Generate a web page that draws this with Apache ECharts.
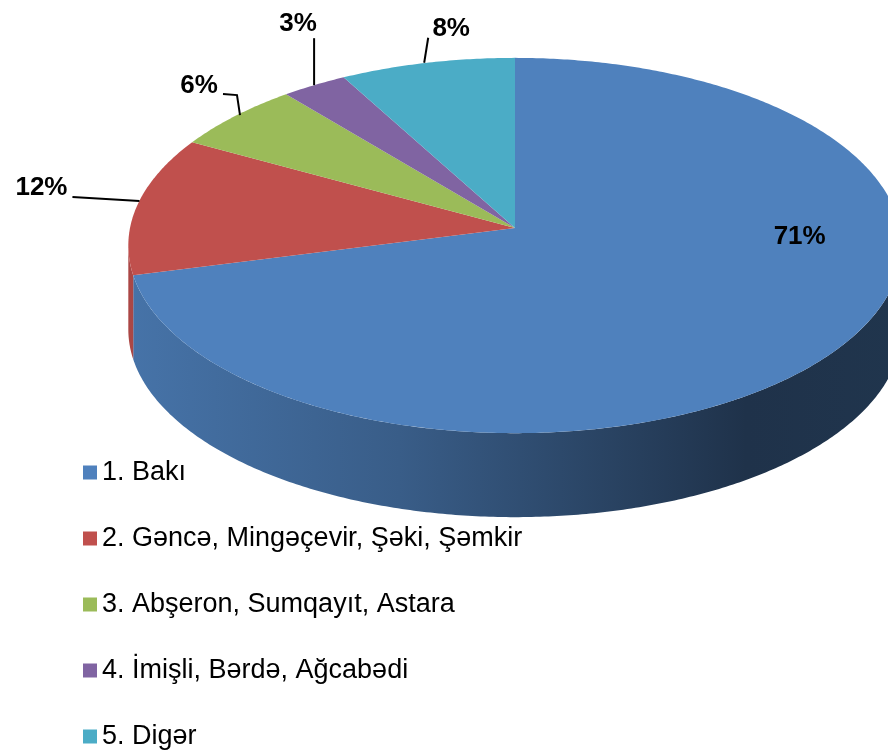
<!DOCTYPE html>
<html>
<head>
<meta charset="utf-8">
<script src="https://cdn.jsdelivr.net/npm/echarts@6/dist/echarts.min.js"></script>
<style>
  html, body { margin: 0; padding: 0; background: #fff; }
  #chart { width: 888px; height: 750px; }
</style>
</head>
<body>
<div id="chart"></div>
<script>
// data
var categories = ['1. Bakı', '2. Gəncə, Mingəçevir, Şəki, Şəmkir', '3. Abşeron, Sumqayıt, Astara', '4. İmişli, Bərdə, Ağcabədi', '5. Digər'];
var values = [71, 12, 6, 3, 8];
var labels = ['71%', '12%', '6%', '3%', '8%'];

// colours (office palette)
var colors = ['#4f81bd', '#c0504d', '#9bbb59', '#8064a2', '#4bacc6'];

// 3d pie geometry
var CX = 515, CY = 228;     // apex of slices
var RX = 385, RY = 186;     // radii
var K = 0.0933;             // perspective
var H = 84;                 // thickness

// label placement, relative to the slice edge at its mid angle
var labelOffset = [[-38, -112], [-96, -17], [-36, -30], [-16, -61], [24, -34]];
var leaderPath = [null, [[2, -4], [-65, -8]], [[5, -1], [2, -21], [-12, -22]], [[0, 0], [0, -47]], [[-3, 0], [1, -25]]];

function proj(t, drop) {
	var s = Math.sin(t), c = Math.cos(t);
	var d = 1 + K * c;
	return [CX + RX * s / d, CY - RY * c / d + (drop || 0)];
}

function arc(a, b, drop) {
	var pts = [];
	var n = Math.max(2, Math.ceil(Math.abs(b - a) / 0.01));
	for (var i = 0; i <= n; i++) {
		pts.push(proj(a + (b - a) * i / n, drop));
	}
	return pts;
}

function shade(hex, f) {
	var r = parseInt(hex.substr(1, 2), 16), g = parseInt(hex.substr(3, 2), 16), b = parseInt(hex.substr(5, 2), 16);
	return 'rgb(' + Math.round(r * f) + ',' + Math.round(g * f) + ',' + Math.round(b * f) + ')';
}

var total = values.reduce(function(p, v) { return p + v; }, 0);
var TL = Math.acos(-K), TR = 2 * Math.PI - TL; // visible front side

function makeRender(idx) {
	return function(params, api) {
		var before = 0;
		for (var i = 0; i < idx; i++) before += values[i];
		var a0 = before / total * 2 * Math.PI;
		var a1 = (before + values[idx]) / total * 2 * Math.PI;
		var children = [];

		// side
		var lo = Math.max(a0, TL), hi = Math.min(a1, TR);
		if (hi > lo) {
			var sidePts = arc(lo, hi, 0).concat(arc(hi, lo, H));
			children.push({
				type: 'polygon',
				z2: 1,
				shape: { points: sidePts },
				style: {
					fill: new echarts.graphic.LinearGradient(CX - RX, 0, CX + RX, 0, [
						{ offset: 0, color: shade(colors[idx], 0.89) },
						{ offset: 0.35, color: shade(colors[idx], 0.72) },
						{ offset: 0.8, color: shade(colors[idx], 0.39) },
						{ offset: 1, color: shade(colors[idx], 0.41) }
					], true)
				}
			});
		}

		// top
		children.push({
			type: 'polygon',
			z2: 2,
			shape: { points: [[CX, CY]].concat(arc(a0, a1, 0)) },
			style: { fill: colors[idx] }
		});

		// label + leader line
		var e = proj((a0 + a1) / 2, 0);
		if (leaderPath[idx]) {
			children.push({
				type: 'polyline',
				z2: 3,
				shape: { points: leaderPath[idx].map(function(p) { return [e[0] + p[0], e[1] + p[1]]; }) },
				style: { stroke: '#000', lineWidth: 2, fill: null }
			});
		}
		children.push({
			type: 'text',
			z2: 4,
			x: e[0] + labelOffset[idx][0],
			y: e[1] + labelOffset[idx][1],
			style: {
				text: labels[idx],
				font: 'bold 26px "Liberation Sans", Arial, sans-serif',
				fill: '#000',
				align: 'center',
				verticalAlign: 'middle'
			}
		});
		return { type: 'group', children: children };
	};
}

var series = [];
for (var s = 0; s < categories.length; s++) {
	series.push({
		name: categories[s],
		type: 'custom',
		coordinateSystem: 'none',
		itemStyle: { color: colors[s] },
		renderItem: makeRender(s),
		data: [values[s]],
		silent: true
	});
}

var myChart = echarts.init(document.getElementById('chart'));
myChart.setOption({
	animation: false,
	legend: {
		orient: 'vertical',
		left: 83,
		top: 459,
		padding: 0,
		itemWidth: 14,
		itemHeight: 14,
		itemGap: 39,
		icon: 'rect',
		selectedMode: false,
		data: categories,
		textStyle: {
			fontFamily: '"Liberation Sans", Arial, sans-serif',
			fontSize: 27,
			lineHeight: 27,
			color: '#000'
		}
	},
	series: series
});
</script>
</body>
</html>
